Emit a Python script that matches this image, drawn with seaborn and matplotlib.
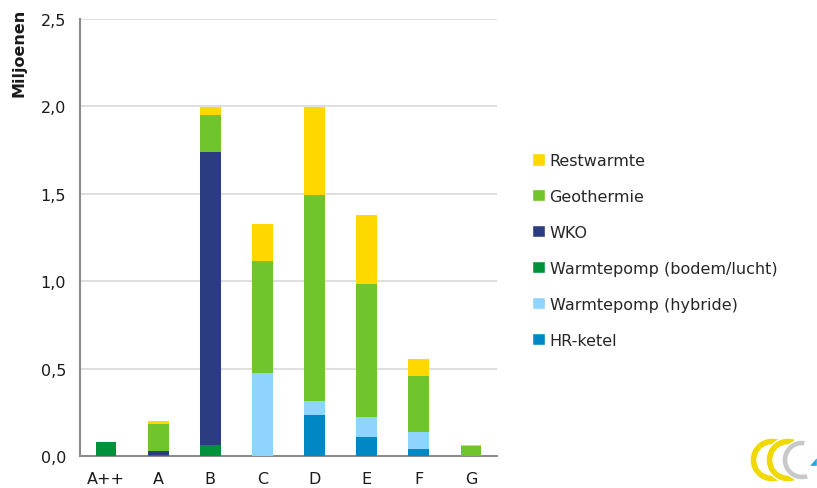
import numpy as np
import matplotlib
matplotlib.use("Agg")
import matplotlib.pyplot as plt
import seaborn as sns
from matplotlib.patches import Patch, Wedge, Polygon
from matplotlib.ticker import FixedLocator, FuncFormatter

# energy labels
labels = ["A++", "A", "B", "C", "D", "E", "F", "G"]

# values in millions, per heat source (bottom of stack first)
hr_ketel = [0.0, 0.0, 0.0, 0.0, 0.236, 0.109, 0.038, 0.0]
wp_hybride = [0.0, 0.0, 0.0, 0.475, 0.081, 0.114, 0.101, 0.0]
wp_bodem = [0.078, 0.004, 0.061, 0.0, 0.0, 0.0, 0.0, 0.0]
wko = [0.0, 0.026, 1.676, 0.0, 0.0, 0.0, 0.0, 0.0]
geothermie = [0.0, 0.155, 0.216, 0.641, 1.178, 0.761, 0.320, 0.055]
restwarmte = [0.0, 0.017, 0.044, 0.213, 0.502, 0.395, 0.096, 0.006]

series = [
    ("HR-ketel", hr_ketel, "#0088C4"),
    ("Warmtepomp (hybride)", wp_hybride, "#8FD3FF"),
    ("Warmtepomp (bodem/lucht)", wp_bodem, "#00923A"),
    ("WKO", wko, "#2B3D80"),
    ("Geothermie", geothermie, "#70C42C"),
    ("Restwarmte", restwarmte, "#FFD800"),
]

sns.set_style("white")
plt.rcParams["font.family"] = ["DejaVu Sans"]
plt.rcParams["font.size"] = 11

fig = plt.figure(figsize=(8.17, 4.89), dpi=100)
ax = fig.add_axes([80 / 817, 32 / 489, 417 / 817, 437 / 489])

bottom = np.zeros(len(labels))
for name, vals, col in series:
    sns.barplot(x=labels, y=vals, bottom=bottom, color=col, width=0.4,
                saturation=1, linewidth=0, ax=ax, zorder=3)
    bottom = bottom + np.array(vals)

ax.set_xlim(-0.5, len(labels) - 0.5)
ax.set_ylim(0, 2.5)
ax.set_yticks(np.arange(0, 2.51, 0.5))
ax.yaxis.set_major_formatter(FuncFormatter(lambda v, p: f"{v:.1f}".replace(".", ",")))

# ticks on category boundaries, labels in the middle
ax.xaxis.set_major_locator(FixedLocator(np.arange(-0.5, len(labels), 1)))
ax.xaxis.set_minor_locator(FixedLocator(np.arange(len(labels))))
ax.set_xticklabels([], minor=False)
ax.set_xticklabels(labels, minor=True)
ax.tick_params(axis="x", which="major", length=6, width=1.5, color="#8C8C8C", direction="out")
ax.tick_params(axis="x", which="minor", length=0, pad=11, labelsize=11.5, labelcolor="#1A1A1A")
ax.tick_params(axis="y", length=6, width=1.5, color="#8C8C8C", direction="out",
               labelsize=11.5, labelcolor="#1A1A1A", pad=4)

ax.grid(axis="y", color="#D9D9D9", linewidth=1.2, zorder=0)
ax.grid(axis="x", visible=False)
sns.despine(ax=ax)
for s in ["left", "bottom"]:
    ax.spines[s].set_color("#8C8C8C")
    ax.spines[s].set_linewidth(1.5)

ax.set_xlabel("")
ax.set_ylabel("Miljoenen", fontsize=11.5, color="#1A1A1A", loc="top", fontweight="semibold")
ax.yaxis.set_label_coords(-0.165, 1.025, transform=ax.transAxes)
ax.yaxis.label.set_verticalalignment("top")

handles = [Patch(facecolor=col, label=name) for name, vals, col in series[::-1]]
fig.legend(handles=handles, loc="upper left", bbox_to_anchor=(524 / 817, 1 - 146 / 489),
           frameon=False, fontsize=11.5, handlelength=0.8, handleheight=0.8,
           handletextpad=0.3, labelspacing=1.31, borderpad=0)

# small logo bottom right
lax = fig.add_axes([748 / 817, 0, 69 / 817, 60 / 489])
lax.set_xlim(0, 69)
lax.set_ylim(0, 60)
lax.axis("off")
lax.add_patch(Wedge((24, 28), 22, 70, 290, width=7, facecolor="#F0D800"))
lax.add_patch(Wedge((40, 28), 22, 70, 290, width=7, facecolor="#F0D800"))
lax.add_patch(Wedge((54, 28), 20, 80, 290, width=6, facecolor="#C8C8C8"))
lax.add_patch(Polygon([[60, 22], [69, 22], [69, 32]], facecolor="#2AA5E0"))

fig.savefig("out.png", dpi=100)
